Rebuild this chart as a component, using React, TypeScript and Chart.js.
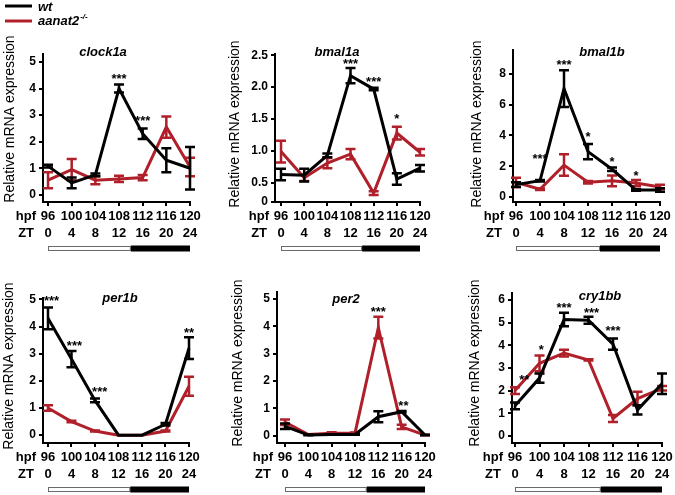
import React, { useEffect, useRef } from 'react';
import { Chart, registerables } from 'chart.js';

Chart.register(...registerables);

const FONT = '"Liberation Sans", Arial, Helvetica, sans-serif';
const BLACK = '#000000';
const RED = '#b0202a';

// shared categories
const HPF = [96, 100, 104, 108, 112, 116, 120];
const ZT = [0, 4, 8, 12, 16, 20, 24];
const LIGHT_START = 96;
const LIGHT_END = 110; // ZT14
const DARK_END = 120;
const SERIES_NAMES = ['wt', 'aanat2'];

// clock1a
const clock1aWt = [1.08, 0.45, 0.75, 4.0, 2.3, 1.3, 1.0];
const clock1aWtErr = [0.05, 0.2, 0.05, 0.15, 0.2, 0.45, 0.8];
const clock1aKo = [0.55, 0.95, 0.55, 0.6, 0.65, 2.55, 1.05];
const clock1aKoErr = [0.3, 0.4, 0.15, 0.12, 0.1, 0.4, 0.35];
const clock1aStars = [{ x: 108, y: 4.5, t: '***' }, { x: 112, y: 2.9, t: '***' }];
const clock1aTicks = [0, 1, 2, 3, 4, 5];
const clock1aTickLabels = ['0', '1', '2', '3', '4', '5'];

// bmal1a
const bmal1aWt = [0.63, 0.62, 0.93, 2.18, 1.97, 0.56, 0.73];
const bmal1aWtErr = [0.09, 0.1, 0.03, 0.12, 0.02, 0.09, 0.05];
const bmal1aKo = [0.99, 0.58, 0.81, 0.95, 0.34, 1.28, 0.98];
const bmal1aKoErr = [0.17, 0.05, 0.08, 0.08, 0.03, 0.1, 0.05];
const bmal1aStars = [{ x: 108, y: 2.42, t: '***' }, { x: 112, y: 2.14, t: '***' }, { x: 116, y: 1.56, t: '*' }];
const bmal1aTicks = [0.2, 0.5, 1.0, 1.5, 2.0, 2.5];
const bmal1aTickLabels = ['0', '0.5', '1.0', '1.5', '2.0', '2.5'];

// bmal1b
const bmal1bWt = [0.8, 1.05, 7.05, 2.95, 1.8, 0.45, 0.45];
const bmal1bWtErr = [0.15, 0.05, 1.2, 0.5, 0.12, 0.05, 0.12];
const bmal1bKo = [0.95, 0.5, 2.07, 0.95, 1.05, 0.9, 0.65];
const bmal1bKoErr = [0.3, 0.05, 0.7, 0.08, 0.35, 0.2, 0.15];
const bmal1bStars = [
  { x: 100, y: 2.7, t: '***' }, { x: 104, y: 8.8, t: '***' }, { x: 108, y: 4.15, t: '*' },
  { x: 112, y: 2.5, t: '*' }, { x: 116, y: 1.6, t: '*' },
];
const bmal1bTicks = [0, 2, 4, 6, 8];
const bmal1bTickLabels = ['0', '2', '4', '6', '8'];

// per1b
const per1bWt = [4.3, 2.8, 1.28, 0, 0, 0.4, 3.2];
const per1bWtErr = [0.4, 0.3, 0.07, 0, 0, 0.05, 0.4];
const per1bKo = [1.0, 0.5, 0.15, 0, 0, 0.15, 1.8];
const per1bKoErr = [0.1, 0.03, 0.02, 0, 0, 0.02, 0.35];
const per1bStars = [
  { x: 96.6, y: 5.07, t: '***' }, { x: 100.5, y: 3.4, t: '***' }, { x: 104.8, y: 1.7, t: '***' }, { x: 120, y: 3.9, t: '**' },
];
const per1bTicks = [0, 1, 2, 3, 4, 5];
const per1bTickLabels = ['0', '1', '2', '3', '4', '5'];

// per2
const per2Wt = [0.35, 0.03, 0.05, 0.05, 0.7, 0.88, 0.03];
const per2WtErr = [0.1, 0.01, 0.01, 0.01, 0.2, 0.03, 0.01];
const per2Ko = [0.5, 0.05, 0.1, 0.1, 3.95, 0.33, 0.03];
const per2KoErr = [0.1, 0.01, 0.03, 0.02, 0.4, 0.08, 0.01];
const per2Stars = [{ x: 112, y: 4.63, t: '***' }, { x: 116.3, y: 1.2, t: '**' }];
const per2Ticks = [0, 1, 2, 3, 4, 5];
const per2TickLabels = ['0', '1', '2', '3', '4', '5'];

// cry1bb
const cry1bbWt = [1.33, 2.55, 5.13, 5.1, 4.05, 1.15, 2.3];
const cry1bbWtErr = [0.15, 0.2, 0.3, 0.15, 0.25, 0.2, 0.45];
const cry1bbKo = [2.0, 3.2, 3.65, 3.35, 0.77, 1.65, 2.1];
const cry1bbKoErr = [0.15, 0.35, 0.15, 0.03, 0.15, 0.3, 0.1];
const cry1bbStars = [
  { x: 97.5, y: 2.6, t: '**' }, { x: 100.3, y: 3.93, t: '*' }, { x: 104, y: 5.78, t: '***' },
  { x: 108.5, y: 5.56, t: '***' }, { x: 112, y: 4.76, t: '***' },
];
const cry1bbTicks = [0, 1, 2, 3, 4, 5, 6];
const cry1bbTickLabels = ['0', '1', '2', '3', '4', '5', '6'];

type Star = { x: number; y: number; t: string };
type PanelDef = {
  gene: string;
  wt: number[]; wtErr: number[]; ko: number[]; koErr: number[];
  stars: Star[];
  ticks: number[]; tickLabels: string[];
  yMin: number; yMax: number; xMin: number;
  rect: { left: number; right: number; top: number; bottom: number };
  titlePos: [number, number];
  yTitlePos: [number, number];
  legend?: boolean;
};

const PANELS: PanelDef[] = [
  {
    gene: 'clock1a', wt: clock1aWt, wtErr: clock1aWtErr, ko: clock1aKo, koErr: clock1aKoErr, stars: clock1aStars,
    ticks: clock1aTicks, tickLabels: clock1aTickLabels, yMin: -0.27, yMax: 5.3, xMin: 95.15,
    rect: { left: 43, right: 190, top: 54, bottom: 202 }, titlePos: [103, 52], yTitlePos: [10, 119], legend: true,
  },
  {
    gene: 'bmal1a', wt: bmal1aWt, wtErr: bmal1aWtErr, ko: bmal1aKo, koErr: bmal1aKoErr, stars: bmal1aStars,
    ticks: bmal1aTicks, tickLabels: bmal1aTickLabels, yMin: 0.2, yMax: 2.52, xMin: 94.96,
    rect: { left: 275, right: 420, top: 54, bottom: 202 }, titlePos: [337, 52], yTitlePos: [235, 124],
  },
  {
    gene: 'bmal1b', wt: bmal1bWt, wtErr: bmal1bWtErr, ko: bmal1bKo, koErr: bmal1bKoErr, stars: bmal1bStars,
    ticks: bmal1bTicks, tickLabels: bmal1bTickLabels, yMin: -0.33, yMax: 9.56, xMin: 95.5,
    rect: { left: 513, right: 660, top: 50, bottom: 202 }, titlePos: [602, 52], yTitlePos: [477, 124],
  },
  {
    gene: 'per1b', wt: per1bWt, wtErr: per1bWtErr, ko: per1bKo, koErr: per1bKoErr, stars: per1bStars,
    ticks: per1bTicks, tickLabels: per1bTickLabels, yMin: -0.29, yMax: 5.05, xMin: 95.15,
    rect: { left: 43, right: 189, top: 298, bottom: 443 }, titlePos: [120, 298], yTitlePos: [9, 366],
  },
  {
    gene: 'per2', wt: per2Wt, wtErr: per2WtErr, ko: per2Ko, koErr: per2KoErr, stars: per2Stars,
    ticks: per2Ticks, tickLabels: per2TickLabels, yMin: -0.26, yMax: 5.25, xMin: 94.63,
    rect: { left: 277, right: 425, top: 292, bottom: 443 }, titlePos: [346, 299], yTitlePos: [238, 363],
  },
  {
    gene: 'cry1bb', wt: cry1bbWt, wtErr: cry1bbWtErr, ko: cry1bbKo, koErr: cry1bbKoErr, stars: cry1bbStars,
    ticks: cry1bbTicks, tickLabels: cry1bbTickLabels, yMin: -0.31, yMax: 6.3, xMin: 95.51,
    rect: { left: 512, right: 662, top: 293, bottom: 443 }, titlePos: [600, 296], yTitlePos: [475, 363],
  },
];

const W = 675;
const H = 495;
const YW = 40;
const XH = 6;

const decorPlugin = {
  id: 'decor',
  afterDatasetDraw(chart: any, args: any) {
    const ds = chart.data.datasets[args.index];
    const errs: number[] = ds.errors || [];
    const ys = chart.scales.y;
    const ctx = chart.ctx;
    ctx.save();
    ctx.strokeStyle = ds.borderColor;
    ctx.lineWidth = 2.5;
    args.meta.data.forEach((pt: any, i: number) => {
      const e = errs[i];
      if (!e || e <= 0) return;
      const v = ds.data[i].y;
      const x = pt.x;
      const yt = ys.getPixelForValue(v + e);
      const yb = ys.getPixelForValue(v - e);
      ctx.beginPath();
      ctx.moveTo(x, yt); ctx.lineTo(x, yb);
      ctx.moveTo(x - 5, yt); ctx.lineTo(x + 5, yt);
      ctx.moveTo(x - 5, yb); ctx.lineTo(x + 5, yb);
      ctx.stroke();
    });
    ctx.restore();
  },
  afterDraw(chart: any, _args: any, opts: any) {
    const p: PanelDef = opts.panel;
    const ctx = chart.ctx;
    const xs = chart.scales.x;
    const ys = chart.scales.y;
    const area = chart.chartArea;
    ctx.save();
    ctx.fillStyle = BLACK;
    // stars
    ctx.font = `bold 13px ${FONT}`;
    ctx.textAlign = 'center';
    ctx.textBaseline = 'alphabetic';
    p.stars.forEach((s) => {
      ctx.fillText(s.t, xs.getPixelForValue(s.x), ys.getPixelForValue(s.y) + 7.5);
    });
    // title
    ctx.font = `italic bold 13px ${FONT}`;
    ctx.textBaseline = 'middle';
    ctx.fillText(p.gene, p.titlePos[0], p.titlePos[1]);
    // y title
    ctx.save();
    ctx.translate(p.yTitlePos[0], p.yTitlePos[1]);
    ctx.rotate(-Math.PI / 2);
    ctx.font = `14px ${FONT}`;
    ctx.fillText('Relative mRNA expression', 0, 0);
    ctx.restore();
    // hpf / ZT rows
    ctx.font = `bold 13px ${FONT}`;
    const hpfY = area.bottom + 14;
    const ztY = area.bottom + 31;
    HPF.forEach((h, i) => {
      const x = xs.getPixelForValue(h);
      ctx.fillText(String(h), x, hpfY);
      ctx.fillText(String(ZT[i]), x, ztY);
    });
    const x0 = xs.getPixelForValue(HPF[0]);
    ctx.textAlign = 'right';
    ctx.fillText('hpf', x0 - 12, hpfY);
    ctx.fillText('ZT', x0 - 14, ztY);
    // light / dark bar
    const barY = area.bottom + 44;
    const bl = xs.getPixelForValue(LIGHT_START);
    const bm = xs.getPixelForValue(LIGHT_END);
    const br = xs.getPixelForValue(DARK_END);
    ctx.fillStyle = '#ffffff';
    ctx.fillRect(bl, barY, bm - bl, 5);
    ctx.strokeStyle = '#6a6a6a';
    ctx.lineWidth = 1;
    ctx.strokeRect(bl + 0.5, barY + 0.5, bm - bl - 1, 4);
    ctx.fillStyle = BLACK;
    ctx.fillRect(bm, barY - 0.5, br - bm, 6);
    // legend
    if (p.legend) {
      ctx.lineWidth = 3;
      ctx.strokeStyle = BLACK;
      ctx.beginPath(); ctx.moveTo(5, 6); ctx.lineTo(32, 6); ctx.stroke();
      ctx.strokeStyle = RED;
      ctx.beginPath(); ctx.moveTo(5, 21); ctx.lineTo(32, 21); ctx.stroke();
      ctx.fillStyle = BLACK;
      ctx.textAlign = 'left';
      ctx.font = `italic bold 13px ${FONT}`;
      ctx.fillText(SERIES_NAMES[0], 38, 7);
      ctx.fillText(SERIES_NAMES[1], 38, 21);
      const w = ctx.measureText(SERIES_NAMES[1]).width;
      ctx.font = `italic bold 8px ${FONT}`;
      ctx.fillText('-/-', 38 + w + 1, 17);
    }
    ctx.restore();
  },
};

function Panel({ p }: { p: PanelDef }) {
  const ref = useRef<HTMLCanvasElement | null>(null);
  useEffect(() => {
    if (!ref.current) return;
    const mk = (vals: number[], errs: number[], color: string, label: string) => ({
      label,
      data: HPF.map((h, i) => ({ x: h, y: vals[i] })),
      errors: errs,
      borderColor: color,
      backgroundColor: color,
      borderWidth: 3,
      pointRadius: 0,
      tension: 0,
      fill: false,
      clip: false,
    });
    const chart = new Chart(ref.current, {
      type: 'line',
      data: {
        datasets: [mk(p.wt, p.wtErr, BLACK, 'wt') as any, mk(p.ko, p.koErr, RED, 'aanat2-/-') as any],
      },
      options: {
        animation: false,
        responsive: false,
        devicePixelRatio: 1,
        layout: {
          padding: {
            left: p.rect.left - YW,
            right: W - p.rect.right,
            top: p.rect.top,
            bottom: H - p.rect.bottom - XH,
          },
        },
        plugins: {
          legend: { display: false },
          tooltip: { enabled: false },
          decor: { panel: p },
        } as any,
        scales: {
          x: {
            type: 'linear',
            min: p.xMin,
            max: 120,
            afterBuildTicks: (s: any) => { s.ticks = HPF.map((v) => ({ value: v })); },
            afterFit: (s: any) => { s.height = XH; },
            ticks: { display: false },
            grid: { display: true, drawOnChartArea: false, drawTicks: true, tickLength: 4, color: BLACK, lineWidth: 2 },
            border: { display: true, color: BLACK, width: 2 },
          },
          y: {
            type: 'linear',
            min: p.yMin,
            max: p.yMax,
            afterBuildTicks: (s: any) => { s.ticks = p.ticks.map((v) => ({ value: v })); },
            afterFit: (s: any) => { s.width = YW; },
            ticks: {
              autoSkip: false,
              padding: 3,
              color: BLACK,
              font: { family: FONT, size: 12, weight: 'bold' },
              callback: (_v: any, i: number) => p.tickLabels[i],
            },
            grid: { display: true, drawOnChartArea: false, drawTicks: true, tickLength: 4, color: BLACK, lineWidth: 2 },
            border: { display: true, color: BLACK, width: 2 },
          },
        },
      } as any,
      plugins: [decorPlugin],
    });
    return () => chart.destroy();
  }, [p]);
  return (
    <canvas
      ref={ref}
      width={W}
      height={H}
      style={{ position: 'absolute', left: 0, top: 0, width: W, height: H }}
    />
  );
}

export default function App() {
  return (
    <div style={{ position: 'fixed', left: 0, top: 0, width: W, height: H, background: '#fff', overflow: 'hidden' }}>
      {PANELS.map((p) => (
        <Panel key={p.gene} p={p} />
      ))}
    </div>
  );
}
